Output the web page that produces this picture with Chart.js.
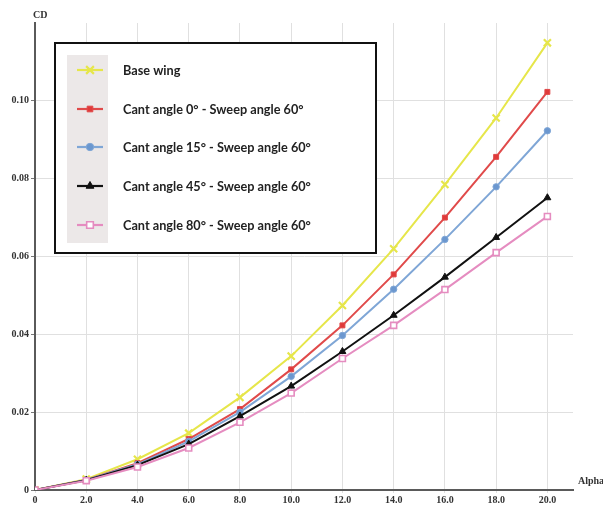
<!DOCTYPE html>
<html>
<head>
<meta charset="utf-8">
<script src="https://cdn.jsdelivr.net/npm/chart.js@4/dist/chart.umd.min.js"></script>
<style>
  html, body { margin: 0; padding: 0; background: #fff; }
  #wrap { width: 603px; height: 507px; position: relative; }
</style>
</head>
<body>
<div id="wrap"><canvas id="c" width="603" height="507"></canvas></div>
<script>
// ---- data ----
const alpha = [0, 2, 4, 6, 8, 10, 12, 14, 16, 18, 20];
const xTickLabels = ["0", "2.0", "4.0", "6.0", "8.0", "10.0", "12.0", "14.0", "16.0", "18.0", "20.0"];
const yTickValues = [0, 0.02, 0.04, 0.06, 0.08, 0.10];
const yTickLabels = ["0", "0.02", "0.04", "0.06", "0.08", "0.10"];
const seriesNames = [
  "Base wing",
  "Cant angle 0° - Sweep angle 60°",
  "Cant angle 15° - Sweep angle 60°",
  "Cant angle 45° - Sweep angle 60°",
  "Cant angle 80° - Sweep angle 60°"
];
const baseWing = [0, 0.0028, 0.0079, 0.0146, 0.0238, 0.0344, 0.0474, 0.0620, 0.0785, 0.0956, 0.1149];
const cant0    = [0, 0.0026, 0.0069, 0.0131, 0.0208, 0.0310, 0.0423, 0.0554, 0.0700, 0.0856, 0.1023];
const cant15   = [0, 0.0026, 0.0066, 0.0125, 0.0200, 0.0292, 0.0397, 0.0516, 0.0644, 0.0779, 0.0923];
const cant45   = [0, 0.0025, 0.0064, 0.0118, 0.0190, 0.0267, 0.0356, 0.0449, 0.0547, 0.0649, 0.0751];
const cant80   = [0, 0.0024, 0.0059, 0.0108, 0.0174, 0.0249, 0.0338, 0.0423, 0.0515, 0.0610, 0.0703];

const toXY = arr => arr.map((v, i) => ({ x: alpha[i], y: v }));

const styles = [
  { color: '#e6e64a', point: 'crossRot', bg: '#e6e64a', r: 5, bw: 2.2 },
  { color: '#e04a4a', point: 'rect',     bg: '#e03a3a', r: 3.5, bw: 1 },
  { color: '#7fa6d6', point: 'circle',   bg: '#6b97cf', r: 3.2, bw: 1 },
  { color: '#111111', point: 'triangle', bg: '#111111', r: 4, bw: 1 },
  { color: '#e58cc0', point: 'rect',     bg: '#ffffff', r: 4.2, bw: 1.6 }
];
const values = [baseWing, cant0, cant15, cant45, cant80];

const datasets = values.map((v, i) => ({
  label: seriesNames[i],
  data: toXY(v),
  borderColor: styles[i].color,
  backgroundColor: styles[i].bg,
  pointBorderColor: styles[i].color,
  pointBackgroundColor: styles[i].bg,
  pointStyle: styles[i].point,
  pointRadius: styles[i].r,
  pointBorderWidth: styles[i].bw,
  borderWidth: 2,
  tension: 0,
  fill: false
})).reverse();

const serif = "'Liberation Serif', 'DejaVu Serif', serif";

const extras = {
  id: 'extras',
  afterDraw(chart) {
    const ctx = chart.ctx;
    ctx.save();
    // axis titles
    ctx.fillStyle = '#333';
    ctx.font = "bold 10px " + serif;
    ctx.textAlign = 'left';
    ctx.textBaseline = 'middle';
    ctx.fillText('CD', 33, 15);
    ctx.fillText('Alpha', 578, 481);

    // legend box
    const bx = 55, by = 43, bw = 321, bh = 210;
    ctx.fillStyle = '#ffffff';
    ctx.fillRect(bx, by, bw, bh);
    ctx.fillStyle = '#ece8e8';
    ctx.fillRect(67, 55, 41, 188);
    ctx.strokeStyle = '#111';
    ctx.lineWidth = 2;
    ctx.strokeRect(bx, by, bw, bh);

    const rows = [70, 109, 147, 186, 225];
    const orig = chart.data.datasets.slice().reverse();
    orig.forEach((ds, i) => {
      const y = rows[i];
      ctx.strokeStyle = ds.borderColor;
      ctx.lineWidth = 2.2;
      ctx.beginPath();
      ctx.moveTo(77, y);
      ctx.lineTo(103, y);
      ctx.stroke();
      ctx.lineWidth = ds.pointBorderWidth;
      ctx.strokeStyle = ds.pointBorderColor;
      ctx.fillStyle = ds.pointBackgroundColor;
      Chart.helpers.drawPoint(ctx, {
        pointStyle: ds.pointStyle,
        radius: ds.pointRadius + 0.5,
        borderWidth: ds.pointBorderWidth,
        rotation: 0
      }, 90, y);
      ctx.fillStyle = '#222';
      ctx.font = "bold 12.7px Lato, 'Open Sans', sans-serif";
      ctx.textAlign = 'left';
      ctx.textBaseline = 'middle';
      ctx.fillText(ds.label, 123, y + 1);
    });
    ctx.restore();
  }
};

new Chart(document.getElementById('c'), {
  type: 'line',
  data: { datasets },
  plugins: [extras],
  options: {
    responsive: false,
    animation: false,
    layout: { padding: { top: 23, right: 30, left: 0, bottom: 0 } },
    plugins: { legend: { display: false }, tooltip: { enabled: false } },
    scales: {
      x: {
        type: 'linear',
        min: 0,
        max: 21,
        afterBuildTicks(scale) {
          scale.ticks = alpha.map(v => ({ value: v }));
        },
        afterFit(scale) { scale.height = 17; },
        ticks: {
          autoSkip: false,
          maxRotation: 0,
          padding: 1,
          color: '#333',
          font: { family: serif, weight: 'bold', size: 10 },
          callback: (v) => xTickLabels[alpha.indexOf(v)]
        },
        grid: { color: '#e0e0e0', lineWidth: 1, tickLength: 3, tickColor: '#e0e0e0' },
        border: { color: '#5a5a5a', width: 2 }
      },
      y: {
        type: 'linear',
        min: 0,
        max: 0.12,
        afterBuildTicks(scale) {
          scale.ticks = yTickValues.map(v => ({ value: v }));
        },
        afterFit(scale) { scale.width = 35; },
        ticks: {
          autoSkip: false,
          padding: 2,
          color: '#333',
          font: { family: serif, weight: 'bold', size: 10 },
          callback: (v) => {
            const i = yTickValues.findIndex(t => Math.abs(t - v) < 1e-9);
            return i >= 0 ? yTickLabels[i] : '';
          }
        },
        grid: { color: '#e0e0e0', lineWidth: 1, tickLength: 4, tickColor: '#777' },
        border: { color: '#5a5a5a', width: 2 }
      }
    }
  }
});
</script>
</body>
</html>
